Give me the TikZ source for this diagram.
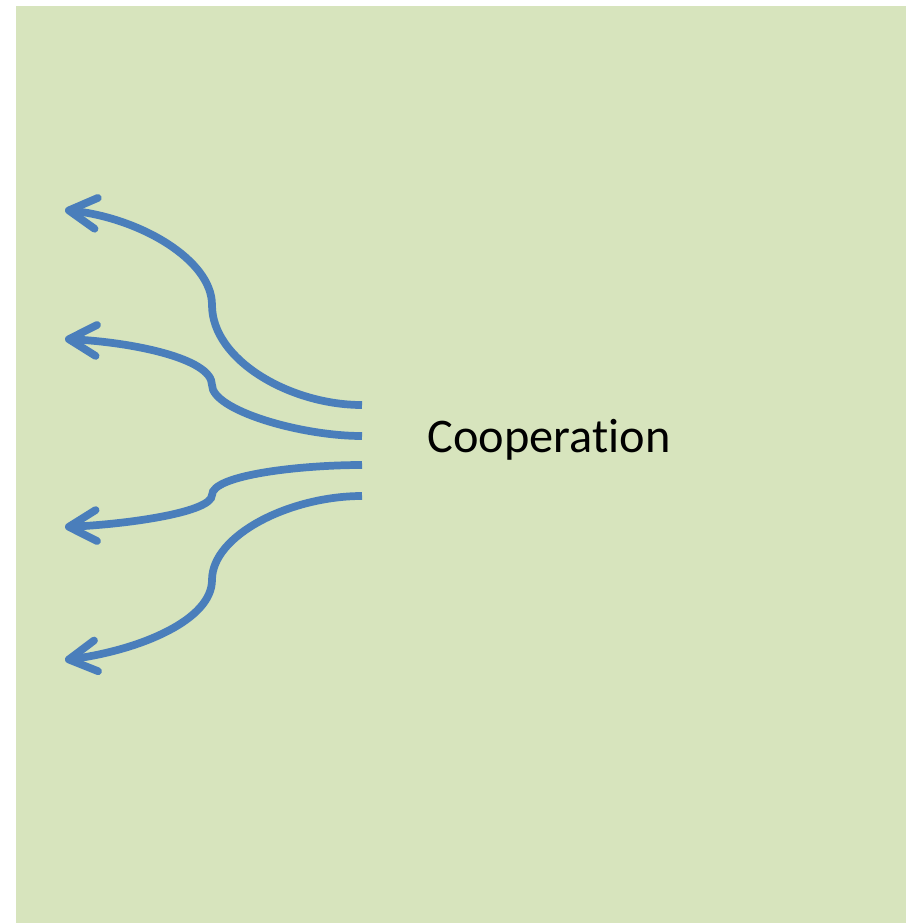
\documentclass[tikz,border=0pt]{standalone}
\usepackage{fontspec}
\setmainfont[RawFeature={-liga;-dlig;-clig}]{Carlito}
\usetikzlibrary{arrows.meta}
\definecolor{bgreen}{RGB}{215,228,189}
\definecolor{lblue}{RGB}{74,126,187}
\begin{document}
\begin{tikzpicture}[x=0.02cm,y=-0.02cm,
    flow/.style={lblue,line width=4.4pt,
      {Straight Barb[length=0.55cm,width=0.62cm,round]}-}]
    \useasboundingbox (0,0) rectangle (906,923);
    \fill[bgreen] (16,6) rectangle (906,923);
    \node (coop) at (549,440) {\fontsize{27.5}{32}\selectfont Cooperation};
    % start points of the arrows
    \coordinate (s1) at (362,405);
    \coordinate (s2) at (362,436);
    \coordinate (s3) at (362,465);
    \coordinate (s4) at (362,496);
    % arrow tips
    \coordinate (t1) at (65,210);
    \coordinate (t2) at (65,339);
    \coordinate (t3) at (65,527);
    \coordinate (t4) at (65,660);
    \draw[flow] (t1) .. controls (140,218) and (212,260) .. (212,305)
                     .. controls (212,360) and (290,405) .. (s1);
    \draw[flow] (t2) .. controls (130,342) and (212,358) .. (212,385)
                     .. controls (212,410) and (300,436) .. (s2);
    \draw[flow] (t3) .. controls (130,524) and (212,512) .. (212,495)
                     .. controls (212,475) and (300,465) .. (s3);
    \draw[flow] (t4) .. controls (140,650) and (212,620) .. (212,580)
                     .. controls (212,535) and (290,496) .. (s4);
\end{tikzpicture}
\end{document}
